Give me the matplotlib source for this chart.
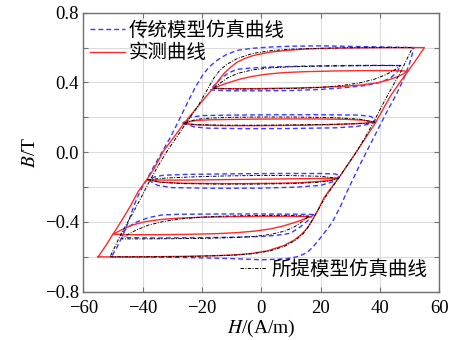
import matplotlib
matplotlib.use('Agg')
import matplotlib.pyplot as plt
from matplotlib.lines import Line2D

red_major = [(-55, -0.60), (-45, -0.600), (-35, -0.599), (-25, -0.597), (-15, -0.593), (-8, -0.588),
             (-3, -0.580), (2, -0.566), (7.5, -0.536), (11, -0.505), (13.5, -0.472), (15.5, -0.435),
             (17.2, -0.39), (19, -0.335), (21.2, -0.26), (23.5, -0.205), (26.1, -0.148), (29, -0.075),
             (32, 0.0), (35.3, 0.085), (38.5, 0.169), (41, 0.245), (43.6, 0.324), (46.5, 0.395),
             (49.5, 0.465), (52.2, 0.53), (55, 0.60),
             (45, 0.600), (35, 0.599), (25, 0.597), (15, 0.592), (8.7, 0.584), (3, 0.574), (-2.6, 0.555),
             (-5.5, 0.538), (-8.2, 0.516), (-10.5, 0.485), (-12.7, 0.449), (-14.5, 0.41), (-16.1, 0.37),
             (-18.4, 0.324), (-22, 0.25), (-26.2, 0.162), (-29.5, 0.085), (-33, 0.006), (-36, -0.09),
             (-38.5, -0.155), (-41.5, -0.225), (-44, -0.305), (-47, -0.39), (-50, -0.47), (-52.2, -0.53),
             (-55, -0.60)]
red_loop1 = [(-16.1, 0.366), (-10, 0.364), (0, 0.365), (10, 0.368), (20, 0.372), (28, 0.378), (34, 0.386),
             (39, 0.398), (43, 0.415), (46.5, 0.437), (49.5, 0.465),
             (44, 0.468), (35, 0.468), (25, 0.466), (15, 0.462), (8, 0.457), (2, 0.448), (-3, 0.435),
             (-7, 0.42), (-10.5, 0.402), (-13.5, 0.385), (-16.1, 0.366)]
red_loop2 = [(-26.2, 0.165), (-22, 0.157), (-15, 0.153), (-5, 0.152), (5, 0.153), (15, 0.155), (25, 0.159),
             (31, 0.163), (35, 0.167), (38.5, 0.172),
             (34, 0.184), (28, 0.189), (18, 0.191), (8, 0.191), (-2, 0.19), (-10, 0.188), (-17, 0.186),
             (-21, 0.183), (-23.5, 0.178), (-26.2, 0.165)]
red_loop3 = [(-38.5, -0.157), (-34, -0.172), (-27, -0.178), (-15, -0.18), (-5, -0.18), (5, -0.178),
             (14, -0.174), (20, -0.167), (23.5, -0.16), (26.1, -0.148),
             (21, -0.15), (13, -0.152), (3, -0.154), (-7, -0.156), (-17, -0.158), (-27, -0.16),
             (-33, -0.16), (-36, -0.159), (-38.5, -0.157)]
red_loop4 = [(16.5, -0.37), (10, -0.368), (0, -0.368), (-10, -0.37), (-20, -0.373), (-28, -0.378),
             (-34, -0.386), (-39, -0.398), (-43, -0.415), (-46.5, -0.44), (-50, -0.47),
             (-44, -0.473), (-35, -0.473), (-25, -0.471), (-15, -0.467), (-8, -0.461), (-2, -0.452),
             (3, -0.44), (7, -0.425), (10.5, -0.407), (13.5, -0.39), (16.5, -0.37)]

# traditional model (blue dashed)
blue_major = [(-50.5, -0.60), (-40, -0.601), (-30, -0.603), (-20, -0.606), (-10, -0.61), (0, -0.617),
              (8, -0.612), (12.5, -0.598), (15.5, -0.575), (17.6, -0.54), (20, -0.49), (22, -0.446),
              (24, -0.40), (25.5, -0.35), (27, -0.30), (28.5, -0.24), (30.5, -0.17), (33, -0.08),
              (36, 0.02), (39, 0.12), (42.5, 0.237), (45.5, 0.33), (48, 0.42), (50, 0.51), (51.5, 0.60),
              (40, 0.604), (30, 0.607), (20, 0.61), (10, 0.608), (3, 0.603), (-3, 0.596), (-8.2, 0.584),
              (-12, 0.558), (-15, 0.526), (-17.5, 0.49), (-19.5, 0.449), (-22, 0.38), (-24, 0.314),
              (-26, 0.245), (-28, 0.175), (-30.5, 0.09), (-33.5, 0.0), (-36.5, -0.09), (-39, -0.17),
              (-40.9, -0.225), (-43, -0.31), (-44.8, -0.40), (-46.5, -0.47), (-48.5, -0.54), (-50.5, -0.60)]
blue_loop1 = [(-17.2, 0.357), (-10, 0.352), (0, 0.352), (10, 0.354), (20, 0.36), (28, 0.37), (35, 0.382),
              (40, 0.40), (43.5, 0.425), (45.8, 0.46), (47, 0.497),
              (40, 0.498), (30, 0.497), (20, 0.495), (10, 0.492), (2, 0.488), (-4, 0.482), (-8.2, 0.475),
              (-11, 0.455), (-13.5, 0.425), (-15.5, 0.39), (-17.2, 0.357)]
blue_loop2 = [(-26.5, 0.166), (-22.5, 0.145), (-18, 0.138), (-5, 0.135), (10, 0.136), (25, 0.14),
              (32, 0.147), (36, 0.16), (38.5, 0.185),
              (37, 0.205), (33, 0.213), (20, 0.215), (5, 0.215), (-10, 0.213), (-20, 0.21), (-24, 0.2),
              (-26.5, 0.166)]
blue_loop3 = [(-38, -0.16), (-35, -0.19), (-30, -0.203), (-15, -0.207), (0, -0.206), (12, -0.2),
              (20, -0.19), (24, -0.17), (26.5, -0.135),
              (25, -0.125), (20, -0.122), (5, -0.122), (-10, -0.124), (-25, -0.127), (-33, -0.132),
              (-36, -0.142), (-38, -0.16)]
blue_loop4 = [(17.6, -0.357), (10, -0.355), (0, -0.354), (-10, -0.354), (-20, -0.355), (-28, -0.356),
              (-33.6, -0.36), (-38, -0.375), (-42, -0.40), (-45, -0.43), (-47.6, -0.474),
              (-45, -0.49), (-35, -0.492), (-20, -0.49), (-8, -0.487), (0, -0.483), (5, -0.477),
              (9.8, -0.465), (13, -0.43), (15.5, -0.395), (17.6, -0.357)]

# proposed model (black dash-dot)
black_major = [(-51, -0.60), (-40, -0.60), (-30, -0.599), (-20, -0.596), (-10, -0.591), (-3, -0.582),
               (3, -0.566), (8, -0.538), (11.5, -0.505), (14, -0.47), (16, -0.425), (17.5, -0.38),
               (19.5, -0.32), (21.5, -0.26), (24, -0.20), (26, -0.15), (29, -0.075), (32, 0.0),
               (35, 0.085), (37.8, 0.17), (40.2, 0.25), (42.7, 0.33), (45, 0.40), (47, 0.46), (49, 0.53),
               (51, 0.60),
               (40, 0.60), (30, 0.599), (20, 0.596), (10, 0.591), (3, 0.582), (-3, 0.566), (-8, 0.538),
               (-11.5, 0.505), (-14, 0.47), (-16, 0.425), (-17.5, 0.38), (-19.5, 0.32), (-21.5, 0.26),
               (-24, 0.20), (-26, 0.15), (-29, 0.075), (-32, 0.0), (-35, -0.085), (-37.8, -0.17),
               (-40.2, -0.25), (-42.7, -0.33), (-45, -0.40), (-47, -0.46), (-49, -0.53), (-51, -0.60)]
black_loop1 = [(-16.1, 0.366), (-8, 0.362), (2, 0.363), (12, 0.366), (20, 0.372), (27, 0.382), (33, 0.397),
               (38, 0.418), (42, 0.445), (45, 0.472), (47, 0.497),
               (40, 0.497), (30, 0.496), (20, 0.494), (10, 0.49), (3, 0.484), (-3, 0.472), (-8, 0.452),
               (-11.5, 0.425), (-14, 0.395), (-16.1, 0.366)]
black_loop2 = [(-26.2, 0.165), (-22, 0.158), (-12, 0.155), (0, 0.155), (12, 0.157), (24, 0.16), (31, 0.163),
               (35.5, 0.166), (38.3, 0.172),
               (33, 0.19), (25, 0.198), (12, 0.202), (0, 0.202), (-10, 0.20), (-17, 0.196), (-21, 0.19),
               (-23.8, 0.18), (-26.2, 0.165)]
black_loop3 = [(-38.3, -0.157), (-34, -0.172), (-26, -0.18), (-14, -0.183), (-2, -0.183), (10, -0.18),
               (18, -0.174), (23, -0.165), (26, -0.15),
               (20, -0.138), (10, -0.134), (0, -0.133), (-12, -0.136), (-24, -0.142), (-32, -0.148),
               (-38.3, -0.157)]
black_loop4 = [(16.1, -0.366), (8, -0.362), (-2, -0.363), (-12, -0.366), (-20, -0.372), (-27, -0.382),
               (-33, -0.397), (-38, -0.418), (-42, -0.445), (-45, -0.472), (-47, -0.497),
               (-40, -0.497), (-30, -0.496), (-20, -0.494), (-10, -0.49), (-3, -0.484), (3, -0.472),
               (8, -0.452), (11.5, -0.425), (14, -0.395), (16.1, -0.366)]

x_ticks = [-60, -40, -20, 0, 20, 40, 60]
y_ticks = [-0.8, -0.6, -0.4, -0.2, 0.0, 0.2, 0.4, 0.6, 0.8]
y_labels = ['\u22120.8', '', '\u22120.4', '', '0.0', '', '0.4', '', '0.8']

serif = ['Liberation Serif', 'DejaVu Serif']
cjk = ['Noto Sans CJK SC', 'DejaVu Sans']
plt.rcParams['font.family'] = serif
plt.rcParams['mathtext.fontset'] = 'stix'

blue = '#3a3aff'
red = '#ff2a2a'

fig = plt.figure(figsize=(4.54, 3.4), dpi=100)
ax = fig.add_axes([0.1835, 0.142, 0.784, 0.8206])


def draw(loops, **kw):
    for lp in loops:
        hs = [p[0] for p in lp]
        bs = [p[1] for p in lp]
        ax.plot(hs, bs, **kw)


draw([blue_major, blue_loop1, blue_loop2, blue_loop3, blue_loop4], color=blue, lw=1.0, dashes=(3.5, 2.2))
draw([red_major, red_loop1, red_loop2, red_loop3, red_loop4], color=red, lw=1.0)
draw([black_major, black_loop1, black_loop2, black_loop3, black_loop4], color='black', lw=0.7,
     dashes=(3.5, 1.5, 1, 1.5))

ax.set_xlim(-60, 60)
ax.set_ylim(-0.8, 0.8)
ax.set_xticks(x_ticks)
ax.set_xticklabels(['\u2212' + str(-v) if v < 0 else str(v) for v in x_ticks])
ax.set_yticks(y_ticks)
ax.set_yticklabels(y_labels)
ax.tick_params(direction='in', top=True, right=True, length=3.5, width=0.8, color='#707070',
               labelsize=13.5)
ax.tick_params(axis='x', pad=6)
ax.tick_params(axis='y', pad=3)
ax.grid(True, color='#dcdcdc', lw=0.8)
ax.set_axisbelow(True)
for s in ax.spines.values():
    s.set_color('#707070')
    s.set_linewidth(1.0)

ax.set_xlabel('$H$/(A/m)', fontsize=14, labelpad=0.5)
ax.set_ylabel('$B$/T', fontsize=14, labelpad=4)

h1 = Line2D([], [], color=blue, lw=1.0, dashes=(3.5, 2.2))
h2 = Line2D([], [], color=red, lw=1.0)
h3 = Line2D([], [], color='black', lw=0.7, dashes=(3.5, 1.5, 1, 1.5))
leg1 = ax.legend([h1, h2], ['传统模型仿真曲线', '实测曲线'], loc='upper left', prop={'family': cjk, 'size': 14},
                 frameon=False, handlelength=1.8, handletextpad=0.2, labelspacing=0.1,
                 borderaxespad=0.15, borderpad=0.2)
ax.add_artist(leg1)
ax.legend([h3], ['所提模型仿真曲线'], loc='lower right', prop={'family': cjk, 'size': 14},
          frameon=False, handlelength=1.3, handletextpad=0.3, borderaxespad=0.4, borderpad=0.2)

fig.savefig('out.png', dpi=100)
